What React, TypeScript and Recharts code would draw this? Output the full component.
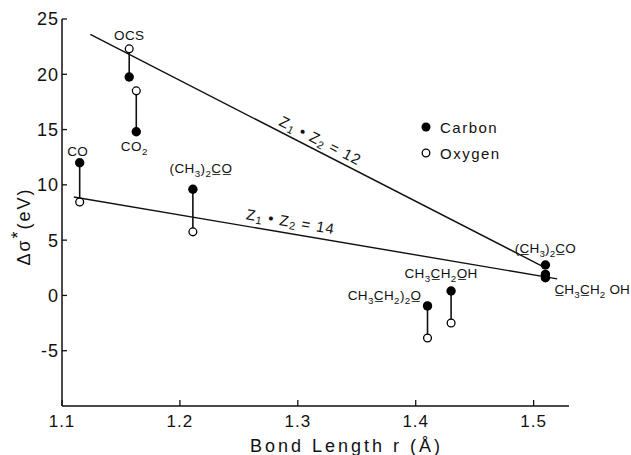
import { Label, Legend, ReferenceDot, ReferenceLine, Scatter, ScatterChart, XAxis, YAxis } from "recharts"

// pairs: carbon (filled) and oxygen (open) atom of the same bond
const pairLabels = ["OCS", "CO_2", "CO", "(CH_3)_2!C!O", "CH_3!CH_2)_2!O", "CH_3!CH_2!OH"]
const pairBondLength = [1.157, 1.163, 1.115, 1.211, 1.41, 1.43]
const carbonShift = [19.75, 14.8, 12.0, 9.6, -0.95, 0.4]
const oxygenShift = [22.3, 18.5, 8.45, 5.75, -3.85, -2.5]

// C-C bonds, carbon only
const ccLabels = ["(!CH_3)_2!CO", "!CH_3!CH_2 OH"]
const ccBondLength = [1.51, 1.51, 1.51]
const ccShift = [2.75, 1.9, 1.6]

// fitted lines
const fitLabels = ["Z_1 • Z_2 = 12", "Z_1 • Z_2 = 14"]
const fit12R = [1.124, 1.51]
const fit12S = [23.6, 2.5]
const fit14R = [1.11, 1.52]
const fit14S = [8.9, 1.5]

const xTicks = [1.1, 1.2, 1.3, 1.4, 1.5]
const yTicks = [-5, 0, 5, 10, 15, 20, 25]

const FONT = "'Liberation Sans', Arial, sans-serif"
const INK = "#111"

const carbonPoints = [
  ...pairBondLength.map((r, i) => ({ r, s: carbonShift[i] })),
  ...ccBondLength.map((r, i) => ({ r, s: ccShift[i] })),
]
const oxygenPoints = pairBondLength.map((r, i) => ({ r, s: oxygenShift[i] }))

// "_" = subscript next char, "!" = underline next char
function chem(label: string, size: number) {
  const parts = []
  let shifted = false
  for (let i = 0; i < label.length; i++) {
    let ch = label[i]
    let sub = false
    if (ch === "_") {
      sub = true
      ch = label[++i]
    } else if (ch === "!") {
      ch = label[++i] + "\u0332"
    }
    const shift = size * 0.3
    const dy = sub && !shifted ? shift : !sub && shifted ? -shift : 0
    shifted = sub
    parts.push(
      <tspan key={i} dy={dy || undefined} fontSize={sub ? size * 0.72 : size}>
        {ch}
      </tspan>
    )
  }
  return parts
}

const XTick = (props: any) => {
  const { x, y, payload } = props
  return (
    <g>
      <line x1={x} y1={y} x2={x} y2={y - 6} stroke={INK} strokeWidth={1.3} />
      <text x={x} y={y + 21} textAnchor="middle" fontFamily={FONT} fontSize={17} letterSpacing={1} fill={INK}>
        {payload.value}
      </text>
    </g>
  )
}

const YTick = (props: any) => {
  const { x, y, payload } = props
  return (
    <g>
      <line x1={x} y1={y} x2={x + 5} y2={y} stroke={INK} strokeWidth={1.3} />
      <text x={x - 3} y={y} dy="0.36em" textAnchor="end" fontFamily={FONT} fontSize={18} letterSpacing={1} fill={INK}>
        {payload.value}
      </text>
    </g>
  )
}

const LegendBox = () => (
  <div style={{ fontFamily: FONT, fontSize: 15, letterSpacing: 1.5, color: INK }}>
    <div style={{ display: "flex", alignItems: "center", height: 26 }}>
      <svg width={16} height={12}>
        <circle cx={6} cy={6} r={4.5} fill="#000" />
      </svg>
      <span style={{ marginLeft: 4 }}>Carbon</span>
    </div>
    <div style={{ display: "flex", alignItems: "center", height: 26 }}>
      <svg width={16} height={12}>
        <circle cx={6} cy={6} r={3.8} fill="#fff" stroke="#000" strokeWidth={1.3} />
      </svg>
      <span style={{ marginLeft: 4 }}>Oxygen</span>
    </div>
  </div>
)

export default function App() {
  // where each compound label sits relative to its point
  const pairLabelPos = [
    { on: "o", dx: 0, dy: -9, anchor: "middle" },
    { on: "c", dx: -2, dy: 19, anchor: "middle" },
    { on: "c", dx: -2, dy: -7, anchor: "middle" },
    { on: "c", dx: 8, dy: -16, anchor: "middle" },
    { on: "c", dx: -6, dy: -6, anchor: "end" },
    { on: "c", dx: -10, dy: -13, anchor: "middle" },
  ]
  const ccLabelPos = [
    { idx: 0, dx: 0, dy: -12, anchor: "middle" },
    { idx: 2, dx: 9, dy: 16, anchor: "start" },
  ]
  const fitLabelPos = [
    { r: 1.3195, s: 14.06, angle: 27.1 },
    { r: 1.294, s: 6.74, angle: 9.6 },
  ]
  const labelSize = 13.5

  return (
    <div style={{ position: "absolute", left: 0, top: 0, background: "#fff" }}>
      <ScatterChart width={631} height={455} margin={{ top: 19, right: 62, bottom: 0, left: 0 }}>
        <XAxis
          type="number"
          dataKey="r"
          domain={[1.1, 1.53]}
          ticks={xTicks}
          height={49}
          tickSize={0}
          tickMargin={0}
          tickLine={false}
          tick={<XTick />}
          axisLine={{ stroke: INK, strokeWidth: 1.5 }}
        >
          <Label
            content={(p: any) => {
              const vb = p.viewBox
              return (
                <text
                  x={vb.x + vb.width / 2 + 31}
                  y={vb.y + 46}
                  textAnchor="middle"
                  fontFamily={FONT}
                  fontSize={18}
                  letterSpacing={3}
                  fill={INK}
                >
                  Bond Length r (Å)
                </text>
              )
            }}
          />
        </XAxis>
        <YAxis
          type="number"
          dataKey="s"
          domain={[-10, 25]}
          ticks={yTicks}
          width={62}
          tickSize={0}
          tickMargin={0}
          tickLine={false}
          tick={<YTick />}
          axisLine={{ stroke: INK, strokeWidth: 1.5 }}
        >
          <Label
            content={(p: any) => {
              const vb = p.viewBox
              const cx = vb.x + 24
              const cy = vb.y + vb.height / 2 + 14
              return (
                <text
                  x={cx}
                  y={cy}
                  transform={`rotate(-90 ${cx} ${cy})`}
                  textAnchor="middle"
                  dominantBaseline="central"
                  fontFamily={FONT}
                  fontSize={18}
                  letterSpacing={2}
                  fill={INK}
                >
                  Δσ<tspan dy={-6}>*</tspan>
                  <tspan dy={6}>(eV)</tspan>
                </text>
              )
            }}
          />
        </YAxis>

        <ReferenceLine
          segment={[
            { x: fit12R[0], y: fit12S[0] },
            { x: fit12R[1], y: fit12S[1] },
          ]}
          stroke={INK}
          strokeWidth={1.4}
          ifOverflow="visible"
        />
        <ReferenceLine
          segment={[
            { x: fit14R[0], y: fit14S[0] },
            { x: fit14R[1], y: fit14S[1] },
          ]}
          stroke={INK}
          strokeWidth={1.4}
          ifOverflow="visible"
        />
        {pairBondLength.map((r, i) => (
          <ReferenceLine
            key={`pair-${i}`}
            segment={[
              { x: r, y: carbonShift[i] },
              { x: r, y: oxygenShift[i] },
            ]}
            stroke={INK}
            strokeWidth={1.6}
            ifOverflow="visible"
          />
        ))}

        <Scatter
          name="Carbon"
          data={carbonPoints}
          isAnimationActive={false}
          shape={(p: any) => <circle cx={p.cx} cy={p.cy} r={4.7} fill="#000" />}
        />
        <Scatter
          name="Oxygen"
          data={oxygenPoints}
          isAnimationActive={false}
          shape={(p: any) => <circle cx={p.cx} cy={p.cy} r={3.9} fill="#fff" stroke="#000" strokeWidth={1.3} />}
        />

        {pairLabels.map((label, i) => {
          const pos = pairLabelPos[i]
          return (
            <ReferenceDot
              key={`pl-${i}`}
              x={pairBondLength[i]}
              y={pos.on === "o" ? oxygenShift[i] : carbonShift[i]}
              r={1}
              ifOverflow="visible"
              shape={(p: any) => (
                <text
                  x={p.cx + pos.dx}
                  y={p.cy + pos.dy}
                  textAnchor={pos.anchor}
                  fontFamily={FONT}
                  fontSize={labelSize}
                  letterSpacing={0.4}
                  fill={INK}
                >
                  {chem(label, labelSize)}
                </text>
              )}
            />
          )
        })}
        {ccLabels.map((label, i) => {
          const pos = ccLabelPos[i]
          return (
            <ReferenceDot
              key={`cl-${i}`}
              x={ccBondLength[pos.idx]}
              y={ccShift[pos.idx]}
              r={1}
              ifOverflow="visible"
              shape={(p: any) => (
                <text
                  x={p.cx + pos.dx}
                  y={p.cy + pos.dy}
                  textAnchor={pos.anchor}
                  fontFamily={FONT}
                  fontSize={labelSize}
                  letterSpacing={0.2}
                  fill={INK}
                >
                  {chem(label, labelSize)}
                </text>
              )}
            />
          )
        })}
        {fitLabels.map((label, i) => {
          const pos = fitLabelPos[i]
          return (
            <ReferenceDot
              key={`fl-${i}`}
              x={pos.r}
              y={pos.s}
              r={1}
              ifOverflow="visible"
              shape={(p: any) => (
                <text
                  x={p.cx}
                  y={p.cy}
                  transform={`rotate(${pos.angle} ${p.cx} ${p.cy})`}
                  textAnchor="middle"
                  dominantBaseline="central"
                  fontFamily={FONT}
                  fontSize={15}
                  letterSpacing={1}
                  fill={INK}
                >
                  {chem(label, 15)}
                </text>
              )}
            />
          )
        })}

        <Legend
          layout="vertical"
          align="center"
          verticalAlign="middle"
          content={<LegendBox />}
          wrapperStyle={{ left: 420, top: 114, width: 110 }}
        />
      </ScatterChart>
    </div>
  )
}
